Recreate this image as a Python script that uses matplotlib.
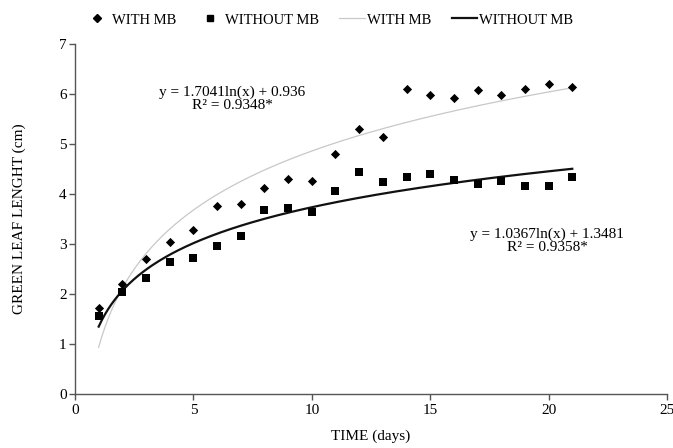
import numpy as np
import matplotlib
matplotlib.use("Agg")
import matplotlib.pyplot as plt
from matplotlib.lines import Line2D

days = [1, 2, 3, 4, 5, 6, 7, 8, 9, 10, 11, 12, 13, 14, 15, 16, 17, 18, 19, 20, 21]
with_mb = [1.72, 2.2, 2.7, 3.05, 3.27, 3.76, 3.8, 4.12, 4.3, 4.26, 4.8, 5.3, 5.14,
           6.1, 5.98, 5.92, 6.07, 5.97, 6.1, 6.2, 6.14]
without_mb = [1.57, 2.05, 2.32, 2.65, 2.73, 2.96, 3.15, 3.68, 3.72, 3.64, 4.05, 4.43, 4.24,
              4.33, 4.39, 4.28, 4.2, 4.25, 4.15, 4.16, 4.35]
fit_with = (1.7041, 0.936)
fit_without = (1.0367, 1.3481)
eq_with = "y = 1.7041ln(x) + 0.936\nR² = 0.9348*"
eq_without = "y = 1.0367ln(x) + 1.3481\nR² = 0.9358*"

plt.rcParams['font.family'] = ['Liberation Serif', 'DejaVu Serif']
fig = plt.figure(figsize=(6.73, 4.48), dpi=100)
ax = fig.add_axes([75/673, 1-394/448, (667-75)/673, (394-44)/448])

xs = np.linspace(1, 21, 300)
ax.plot(xs, fit_with[0]*np.log(xs) + fit_with[1], color='#c8c8c8', lw=0.9, zorder=1)
ax.plot(xs, fit_without[0]*np.log(xs) + fit_without[1], color='#111111', lw=1.6, zorder=1)
ax.scatter(days, with_mb, marker='D', s=22, color='black', zorder=3, linewidths=0)
ax.scatter(days, without_mb, marker='s', s=30, color='black', zorder=3, linewidths=0)

ax.set_xlim(0, 25)
ax.set_ylim(0, 7)
ax.set_xticks([0, 5, 10, 15, 20, 25])
ax.set_yticks(range(8))
for s in ['top', 'right']:
    ax.spines[s].set_visible(False)
for s in ['left', 'bottom']:
    ax.spines[s].set_color('#555555')
    ax.spines[s].set_linewidth(1.0)
ax.tick_params(direction='out', length=4, color='#555555', labelsize=11, width=1)
ax.tick_params(axis='y', pad=2)
ax.set_xlabel('TIME (days)', fontsize=11, labelpad=9)
ax.set_ylabel('GREEN LEAF LENGHT (cm)', fontsize=11, labelpad=24)

fig.text(232/673, 1-99/448, eq_with, ha='center', va='center',
         fontsize=11, linespacing=0.95)
fig.text(547/673, 1-241/448, eq_without, ha='center', va='center',
         fontsize=11, linespacing=0.95)

handles = [
    Line2D([], [], marker='D', color='black', ls='none', markersize=4),
    Line2D([], [], marker='s', color='black', ls='none', markersize=5),
    Line2D([], [], color='#c8c8c8', lw=0.9),
    Line2D([], [], color='#111111', lw=1.6),
]
labels = ['WITH MB', 'WITHOUT MB', 'WITH MB', 'WITHOUT MB']
fig.legend(handles, labels, loc='center', bbox_to_anchor=(329/673, 1-20/448), ncol=4,
           frameon=False, fontsize=10.5, handlelength=1.75, handletextpad=0.15,
           columnspacing=1.4)

fig.savefig('out.png', dpi=100)
